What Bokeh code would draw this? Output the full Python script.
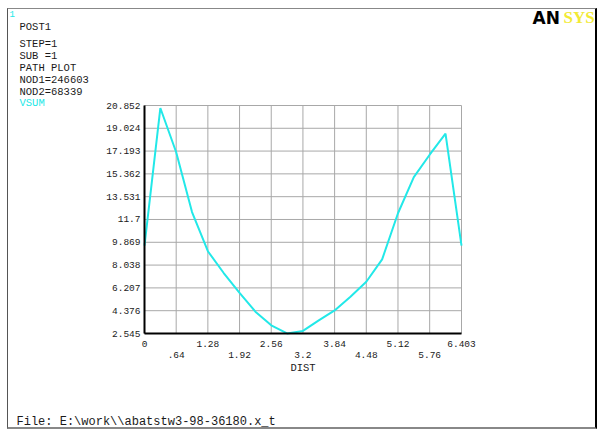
from bokeh.plotting import figure
from bokeh.models import Range1d, FixedTicker, LinearAxis, Label
from bokeh.embed import file_html
from bokeh.resources import INLINE

# ---- data ----
dist = [0.0, 0.32, 0.64, 0.96, 1.28, 1.60, 1.92, 2.24, 2.56, 2.88, 3.20,
        3.52, 3.84, 4.16, 4.48, 4.80, 5.12, 5.44, 5.76, 6.08, 6.403]
vsum = [9.6, 20.65, 17.1, 12.3, 9.15, 7.4, 5.8, 4.3, 3.2, 2.55, 2.75,
        3.6, 4.4, 5.5, 6.7, 8.5, 12.2, 15.1, 16.9, 18.6, 9.6]

x_ticks_row1 = [0, 1.28, 2.56, 3.84, 5.12, 6.403]
x_labels_row1 = ["0", "1.28", "2.56", "3.84", "5.12", "6.403"]
x_ticks_row2 = [0.64, 1.92, 3.2, 4.48, 5.76]
x_labels_row2 = [".64", "1.92", "3.2", "4.48", "5.76"]
y_ticks = [2.545, 4.376, 6.207, 8.038, 9.869, 11.7, 13.531, 15.362, 17.193, 19.024, 20.852]
y_labels = ["2.545", "4.376", "6.207", "8.038", "9.869", "11.7", "13.531", "15.362",
            "17.193", "19.024", "20.852"]

header_lines = ["POST1", "STEP=1", "SUB =1", "PATH PLOT", "NOD1=246603", "NOD2=68339"]
quantity = "VSUM"
footer = "File: E:\\work\\\\abatstw3-98-36180.x_t"

MONO = "Liberation Mono"
CYAN = "#22e8e8"
TXT = "#1a1a1a"

X0, X1 = 0.0, 6.403
Y0, Y1 = 2.545, 20.852

# page geometry (pixels)
CL, CT, W, H = 8, 9, 590, 421          # canvas left/top and size
FL, FR, FT, FB = 144, 461, 105, 333    # data region on the page
SX = (FR - FL) / (X1 - X0)
SY = (FB - FT) / (Y1 - Y0)

def to_x(px):
    return X0 + (px - FL) / SX

def to_y(py):
    return Y0 + (FB - py) / SY

p = figure(width=W, height=H, output_backend="svg", toolbar_location=None,
           x_range=Range1d(to_x(CL), to_x(CL + W)), y_range=Range1d(to_y(CT + H), to_y(CT)),
           min_border=0, x_axis_location=None, y_axis_location=None,
           background_fill_color="white", border_fill_color="white",
           styles={"margin-left": "7px", "margin-top": "8px",
                   "border-left": "1px solid #555555", "border-top": "1px solid #888888",
                   "border-right": "2px solid #000000", "border-bottom": "2px solid #888888"})
p.outline_line_color = None
p.xgrid.visible = False
p.ygrid.visible = False

# grid lines at every tick, limited to the data region
all_x = sorted(x_ticks_row1 + x_ticks_row2)
p.segment(x0=all_x, x1=all_x, y0=[Y0] * len(all_x), y1=[Y1] * len(all_x),
          line_color="#a8a8a8", line_width=1)
p.segment(x0=[X0] * len(y_ticks), x1=[X1] * len(y_ticks), y0=y_ticks, y1=y_ticks,
          line_color="#a8a8a8", line_width=1)

def style_axis(ax, size="9.5px"):
    ax.major_tick_line_color = None
    ax.minor_tick_line_color = None
    ax.major_tick_out = 0
    ax.major_tick_in = 0
    ax.major_label_text_font = MONO
    ax.major_label_text_font_size = size
    ax.major_label_text_color = TXT
    ax.axis_line_color = "black"
    ax.axis_line_width = 2

yax = LinearAxis(ticker=FixedTicker(ticks=y_ticks), fixed_location=X0, bounds=(Y0, Y1),
                 major_label_overrides={t: l for t, l in zip(y_ticks, y_labels)})
style_axis(yax)
yax.major_label_standoff = 4
p.add_layout(yax, "left")

xax1 = LinearAxis(ticker=FixedTicker(ticks=x_ticks_row1), fixed_location=Y0, bounds=(X0, X1),
                  major_label_overrides={t: l for t, l in zip(x_ticks_row1, x_labels_row1)})
style_axis(xax1)
xax1.major_label_standoff = 7
p.add_layout(xax1, "below")

xax2 = LinearAxis(ticker=FixedTicker(ticks=x_ticks_row2), fixed_location=Y0, bounds=(X0, X1),
                  major_label_overrides={t: l for t, l in zip(x_ticks_row2, x_labels_row2)},
                  axis_label="DIST")
style_axis(xax2)
xax2.axis_line_color = None
xax2.major_label_standoff = 18
xax2.axis_label_standoff = 1
xax2.axis_label_text_font = MONO
xax2.axis_label_text_font_size = "10.5px"
xax2.axis_label_text_font_style = "normal"
xax2.axis_label_text_color = TXT
p.add_layout(xax2, "below")

p.line(dist, vsum, line_color=CYAN, line_width=2)

def lab(text, px, py, size="10.5px", color=TXT, font=MONO, style="normal"):
    p.add_layout(Label(x=to_x(px), y=to_y(py), text=text, text_font=font,
                       text_font_size=size, text_color=color, text_baseline="middle",
                       text_align="left", text_font_style=style))

lab("1", 9, 13, size="9px", color=CYAN)
lab(header_lines[0], 19, 26)
for t, yy in zip(header_lines[1:], [43, 55, 67, 79, 91]):
    lab(t, 19, yy)
lab(quantity, 19, 102, color=CYAN)
lab(footer, 16, 421, size="12px")
lab("AN", 532, 17, size="17px", color="#000000", font="DejaVu Sans", style="bold")
lab("SYS", 563, 17, size="17px", color="#f2ea34", font="Liberation Serif", style="bold")

open("out.html", "w").write(file_html(p, INLINE))
